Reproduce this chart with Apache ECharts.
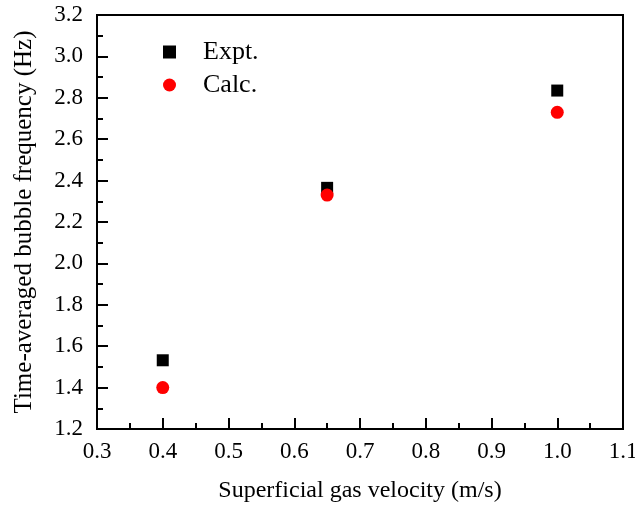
<!DOCTYPE html>
<html><head><meta charset="utf-8">
<script src="https://cdn.jsdelivr.net/npm/echarts@6/dist/echarts.min.js"></script>
<style>html,body{margin:0;padding:0;background:#fff}#c{width:635px;height:508px}</style>
</head><body><div id="c"></div>
<script>
const velocities = [0.4, 0.65, 1.0];
const exptValues = [1.532, 2.365, 2.835];
const calcValues = [1.40, 2.33, 2.73];
const xTicks = [0.3, 0.4, 0.5, 0.6, 0.7, 0.8, 0.9, 1.0, 1.1];
const yTicks = [1.2, 1.4, 1.6, 1.8, 2.0, 2.2, 2.4, 2.6, 2.8, 3.0, 3.2];
const font = '"Liberation Serif", "Times New Roman", serif';

const chart = echarts.init(document.getElementById('c'));
const tickStyle = {color: '#000', width: 2};
chart.setOption({
  animation: false,
  grid: {left: 97, right: 12, top: 15, bottom: 79, containLabel: false, outerBoundsMode: 'none',
         show: true, borderColor: '#000', borderWidth: 2},
  legend: {
    orient: 'vertical', left: 158, top: 34, itemGap: 7, itemWidth: 13, itemHeight: 13,
    textStyle: {color: '#000', fontFamily: font, fontSize: 26, padding: [0, 0, 0, 22]},
    data: [{name: 'Expt.', icon: 'rect'}, {name: 'Calc.', icon: 'circle'}]
  },
  xAxis: {
    type: 'value', min: 0.3, max: 1.1, interval: 0.1,
    name: 'Superficial gas velocity (m/s)', nameLocation: 'middle', nameGap: 50,
    nameTextStyle: {color: '#000', fontFamily: font, fontSize: 24},
    axisLine: {show: true, onZero: false, lineStyle: tickStyle},
    axisTick: {show: true, inside: true, length: 11, lineStyle: tickStyle},
    minorTick: {show: true, splitNumber: 2, length: 6, lineStyle: tickStyle},
    splitLine: {show: false},
    axisLabel: {color: '#000', fontFamily: font, fontSize: 23, margin: 11,
      formatter: v => v.toFixed(1)}
  },
  yAxis: {
    type: 'value', min: 1.2, max: 3.2, interval: 0.2,
    name: 'Time-averaged bubble frequency (Hz)', nameLocation: 'middle', nameGap: 60,
    nameTextStyle: {color: '#000', fontFamily: font, fontSize: 25},
    axisLine: {show: true, onZero: false, lineStyle: tickStyle},
    axisTick: {show: true, inside: true, length: 11, lineStyle: tickStyle},
    minorTick: {show: true, splitNumber: 2, length: 6, lineStyle: tickStyle},
    splitLine: {show: false},
    axisLabel: {color: '#000', fontFamily: font, fontSize: 23, margin: 14,
      formatter: v => v.toFixed(1)}
  },
  series: [
    {name: 'Expt.', type: 'scatter', symbol: 'rect', symbolSize: 12,
     itemStyle: {color: '#000', opacity: 1}, data: velocities.map((v, i) => [v, exptValues[i]])},
    {name: 'Calc.', type: 'scatter', symbol: 'circle', symbolSize: 13,
     itemStyle: {color: '#ff0000', opacity: 1}, data: velocities.map((v, i) => [v, calcValues[i]])}
  ]
});
</script></body></html>
